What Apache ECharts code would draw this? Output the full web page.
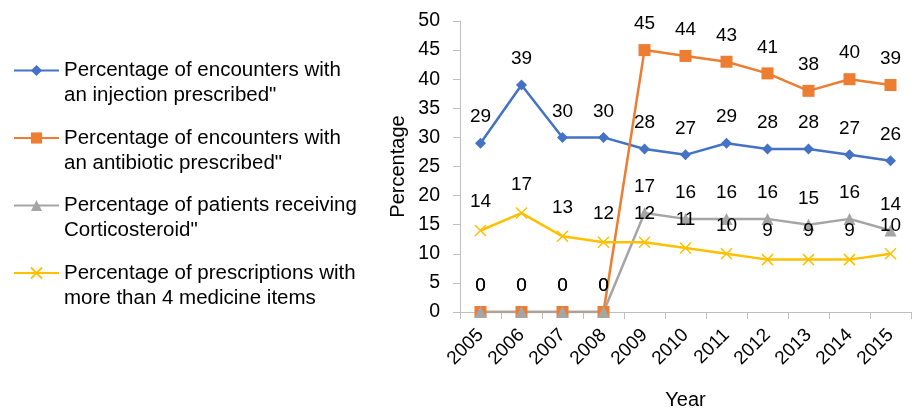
<!DOCTYPE html>
<html>
<head>
<meta charset="utf-8">
<script src="https://cdn.jsdelivr.net/npm/echarts@6/dist/echarts.min.js"></script>
<style>
  html, body { margin: 0; padding: 0; background: #fff; }
  #main { width: 914px; height: 409px; }
</style>
</head>
<body>
<div id="main"></div>
<script>
// 数据
var years = ['2005', '2006', '2007', '2008', '2009', '2010', '2011', '2012', '2013', '2014', '2015'];
var injection = [29, 39, 30, 30, 28, 27, 29, 28, 28, 27, 26];
var antibiotic = [0, 0, 0, 0, 45, 44, 43, 41, 38, 40, 39];
var corticosteroid = [0, 0, 0, 0, 17, 16, 16, 16, 15, 16, 14];
var moreThan4 = [14, 17, 13, 12, 12, 11, 10, 9, 9, 9, 10];
var seriesNames = [
    'Percentage of encounters with\nan injection prescribed"',
    'Percentage of encounters with\nan antibiotic prescribed"',
    'Percentage of patients receiving\nCorticosteroid"',
    'Percentage of prescriptions with\nmore than 4 medicine items'
];
var yTicks = [0, 50, 5]; // min, max, interval

var FONT = 'Liberation Sans';

function makeSeries(name, data, color, symbol, size, extra) {
    var s = {
        name: name,
        type: 'line',
        data: data,
        symbol: symbol,
        symbolSize: size,
        showAllSymbol: true,
        lineStyle: { color: color, width: 2.5 },
        itemStyle: { color: color },
        label: {
            show: true,
            position: 'top',
            distance: 16.5 - size / 2,
            color: '#000',
            fontFamily: FONT,
            fontSize: 19
        },
        emphasis: { disabled: true },
        animation: false
    };
    if (extra) {
        for (var k in extra) s[k] = extra[k];
    }
    return s;
}

var chart = echarts.init(document.getElementById('main'));
chart.setOption({
    backgroundColor: '#fff',
    textStyle: { fontFamily: FONT },
    legend: {
        orient: 'vertical',
        left: 8,
        top: 28,
        itemWidth: 45,
        itemHeight: 14,
        itemGap: -7.5,
        // 空的第一行让图标对齐到文字第一行
        formatter: function (name) { return '\n' + name; },
        textStyle: {
            fontFamily: FONT,
            fontSize: 20.5,
            color: '#000',
            lineHeight: 25
        },
        data: seriesNames
    },
    grid: {
        left: 460,
        right: 3,
        top: 21,
        bottom: 97,
        outerBoundsMode: 'none'
    },
    xAxis: {
        type: 'category',
        data: years,
        boundaryGap: true,
        name: 'Year',
        nameLocation: 'middle',
        nameGap: 78,
        nameTextStyle: { fontFamily: FONT, fontSize: 20, color: '#000' },
        axisLine: { lineStyle: { color: '#BFBFBF', width: 1 } },
        axisTick: { show: true, alignWithLabel: false, length: 7, lineStyle: { color: '#BFBFBF' } },
        axisLabel: {
            rotate: 45,
            margin: 20,
            fontFamily: FONT,
            fontSize: 19,
            color: '#000',
            interval: 0
        },
        splitLine: { show: false }
    },
    yAxis: {
        type: 'value',
        min: yTicks[0],
        max: yTicks[1],
        interval: yTicks[2],
        name: 'Percentage',
        nameLocation: 'middle',
        nameGap: 52,
        nameTextStyle: { fontFamily: FONT, fontSize: 20, color: '#000' },
        axisLine: { show: true, lineStyle: { color: '#BFBFBF', width: 1 } },
        axisTick: { show: true, length: 7, lineStyle: { color: '#BFBFBF' } },
        axisLabel: { margin: 20, fontFamily: FONT, fontSize: 19.5, color: '#000' },
        splitLine: { show: false }
    },
    series: [
        makeSeries(seriesNames[0], injection, '#4472C4', 'diamond', 11),
        makeSeries(seriesNames[1], antibiotic, '#ED7D31', 'rect', 12),
        makeSeries(seriesNames[2], corticosteroid, '#A5A5A5', 'triangle', 12),
        makeSeries(seriesNames[3], moreThan4, '#FFC000', 'path://M0,0L10,10M10,0L0,10', 11, {
            itemStyle: { color: 'none', borderColor: '#FFC000', borderWidth: 1.5 }
        })
    ]
});
</script>
</body>
</html>
